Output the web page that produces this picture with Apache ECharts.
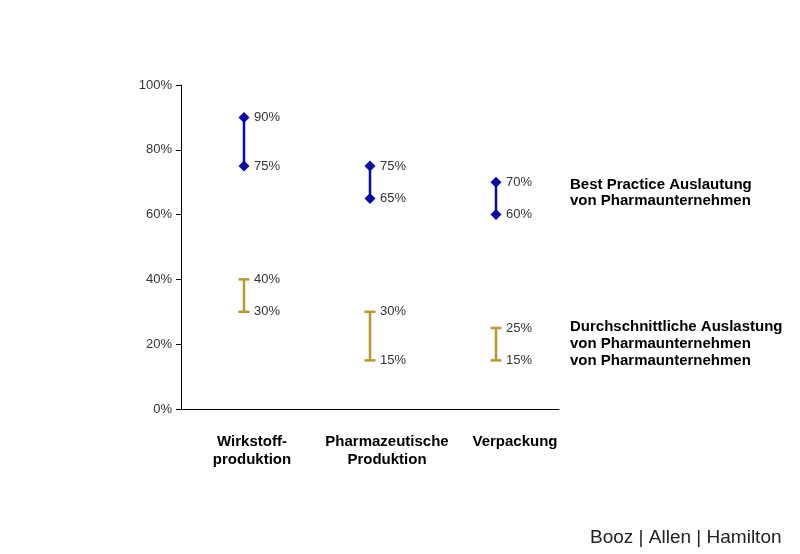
<!DOCTYPE html>
<html>
<head>
<meta charset="utf-8">
<script src="https://cdn.jsdelivr.net/npm/echarts@6/dist/echarts.min.js"></script>
<style>
  html, body { margin: 0; padding: 0; background: #fff; }
  #chart { width: 800px; height: 554px; }
</style>
</head>
<body>
<div id="chart"></div>
<script>
  // Kategorien und Werte (Prozent)
  var categories = ['Wirkstoff-\nproduktion', 'Pharmazeutische\nProduktion', 'Verpackung']
  var bestLow = [75, 65, 60]
  var bestHigh = [90, 75, 70]
  var avgLow = [30, 15, 15]
  var avgHigh = [40, 30, 25]
  var yTicks = [0, 20, 40, 60, 80, 100]

  var BLUE = '#0a0aa8'
  var GOLD = '#b89a30'
  var LABEL_FONT = '13px "Liberation Sans", Arial, sans-serif'

  var myChart = echarts.init(document.getElementById('chart'))

  function rangeData(lo, hi) {
    var out = []
    for (var i = 0; i < categories.length; i++) {
      out.push([i, lo[i], hi[i]])
    }
    return out
  }

  function label(text, p) {
    return {
      type: 'text',
      style: {
        text: text, x: p[0] + 10, y: p[1],
        fill: '#333', font: LABEL_FONT,
        verticalAlign: 'middle', align: 'left'
      }
    }
  }

  function diamond(p) {
    var r = 5.5
    return {
      type: 'polygon',
      shape: { points: [[p[0], p[1] - r], [p[0] + r, p[1]], [p[0], p[1] + r], [p[0] - r, p[1]]] },
      style: { fill: BLUE }
    }
  }

  function renderBest(params, api) {
    var pLo = api.coord([api.value(0), api.value(1)])
    var pHi = api.coord([api.value(0), api.value(2)])
    return {
      type: 'group',
      children: [
        { type: 'line', shape: { x1: pLo[0], y1: pLo[1], x2: pHi[0], y2: pHi[1] }, style: { stroke: BLUE, lineWidth: 2.5 } },
        diamond(pLo), diamond(pHi),
        label(api.value(2) + '%', pHi), label(api.value(1) + '%', pLo)
      ]
    }
  }

  function renderAvg(params, api) {
    var pLo = api.coord([api.value(0), api.value(1)])
    var pHi = api.coord([api.value(0), api.value(2)])
    var w = 5.5
    var st = { stroke: GOLD, lineWidth: 2.5 }
    return {
      type: 'group',
      children: [
        { type: 'line', shape: { x1: pLo[0], y1: pLo[1], x2: pHi[0], y2: pHi[1] }, style: st },
        { type: 'line', shape: { x1: pHi[0] - w, y1: pHi[1], x2: pHi[0] + w, y2: pHi[1] }, style: st },
        { type: 'line', shape: { x1: pLo[0] - w, y1: pLo[1], x2: pLo[0] + w, y2: pLo[1] }, style: st },
        label(api.value(2) + '%', pHi), label(api.value(1) + '%', pLo)
      ]
    }
  }

  // Kategorie-Beschriftungen sitzen im Original etwas rechts der Mitte
  var catRich = {}
  var catShift = [16, 34, 38]
  for (var k = 0; k < catShift.length; k++) {
    catRich['c' + k] = {
      color: '#000', fontSize: 15, fontWeight: 'bold', lineHeight: 18,
      fontFamily: '"Liberation Sans", Arial, sans-serif',
      padding: [0, 0, 0, catShift[k]]
    }
  }

  var option = {
    animation: false,
    backgroundColor: '#fff',
    grid: { left: 181, right: 241, top: 85, bottom: 145 },
    xAxis: {
      type: 'category',
      data: categories,
      axisLine: { lineStyle: { color: '#000', width: 1 } },
      axisTick: { show: false },
      axisLabel: {
        interval: 0,
        hideOverlap: false,
        margin: 24,
        formatter: function (v, i) {
          return v.split('\n').map(function (s) { return '{c' + i + '|' + s + '}' }).join('\n')
        },
        rich: catRich
      }
    },
    yAxis: {
      type: 'value',
      min: 0,
      max: 100,
      interval: 20,
      splitLine: { show: false },
      axisLine: { show: true, lineStyle: { color: '#000', width: 1 } },
      axisTick: { show: true, length: 5, lineStyle: { color: '#000' } },
      axisLabel: {
        margin: 9,
        color: '#333',
        fontSize: 13,
        fontFamily: '"Liberation Sans", Arial, sans-serif',
        formatter: function (v) { return yTicks.indexOf(v) >= 0 ? v + '%' : '' }
      }
    },
    series: [
      { type: 'custom', name: 'Best Practice', renderItem: renderBest, data: rangeData(bestLow, bestHigh), encode: { x: 0, y: [1, 2] } },
      { type: 'custom', name: 'Durchschnitt', renderItem: renderAvg, data: rangeData(avgLow, avgHigh), encode: { x: 0, y: [1, 2] } }
    ],
    graphic: [
      {
        type: 'text', left: 570, top: 177,
        style: {
          text: 'Best Practice Auslautung\nvon Pharmaunternehmen',
          font: 'bold 15px "Liberation Sans", Arial, sans-serif',
          lineHeight: 16, fill: '#000'
        }
      },
      {
        type: 'text', left: 570, top: 318,
        style: {
          text: 'Durchschnittliche Auslastung\nvon Pharmaunternehmen\nvon Pharmaunternehmen',
          font: 'bold 15px "Liberation Sans", Arial, sans-serif',
          lineHeight: 17, fill: '#000'
        }
      },
      {
        type: 'text', left: 590, top: 528,
        style: {
          text: 'Booz | Allen | Hamilton',
          font: '19px "Liberation Sans", Arial, sans-serif',
          fill: '#222'
        }
      }
    ]
  }
  myChart.setOption(option)
  window.addEventListener('resize', function () {
    myChart.resize()
  })
</script>
</body>
</html>
